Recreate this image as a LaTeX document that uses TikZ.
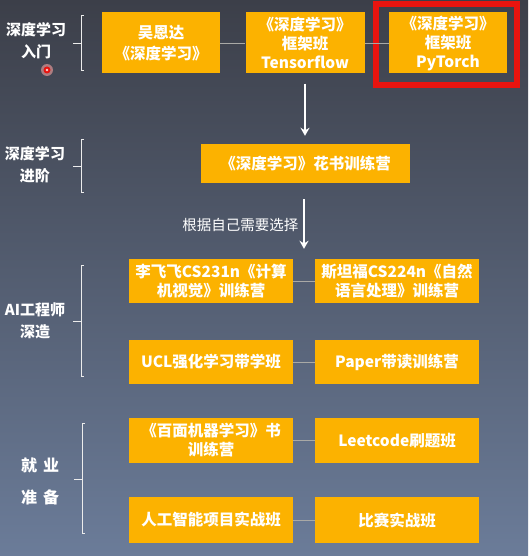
\documentclass[tikz,border=0pt]{standalone}
\usepackage{fontspec}
\setmainfont{Noto Sans CJK SC}
\usetikzlibrary{arrows.meta, positioning, calc}

\definecolor{bgtop}{HTML}{3C3F49}
\definecolor{bgbot}{HTML}{6B7C99}
\definecolor{boxorange}{HTML}{FCB200}
\definecolor{linkgray}{HTML}{A9A9A6}
\definecolor{markred}{HTML}{E8140F}

\begin{document}
\begin{tikzpicture}[
  x=1pt, y=-1pt,
  >=Stealth,
  every node/.style = {font=\fontsize{15.5}{19}\selectfont\bfseries, text=white},
  %-- block styles -------------------------------------------------------
  course/.style   = {fill=boxorange, minimum width=162pt, minimum height=44pt,
                     inner sep=2pt, align=center, text width=160pt},
  stagelab/.style = {align=center, font=\fontsize{15}{22}\selectfont\bfseries},
  bracket/.style  = {draw=white!85!gray, line width=0.8pt},
  link/.style     = {draw=linkgray, line width=0.8pt},
  arrow/.style    = {->, draw=white, line width=2.4pt,
                     arrows={-Stealth[length=8pt, width=9pt]}},
]

% ── background ───────────────────────────────────────────────────────────────
\shade[top color=bgtop, bottom color=bgbot] (0,0) rectangle (528,556);
\useasboundingbox (0,0) rectangle (528,556);

% ── stage 1: 入门 ─────────────────────────────────────────────────────────────
\node[course, minimum width=116pt, minimum height=61pt, text width=114pt,
      font=\fontsize{15.5}{21}\selectfont\bfseries]
  (wu) at (161,43) {吴恩达\\《深度学习》};
\node[course, minimum width=117pt, minimum height=61pt, text width=115pt]
  (tf) at (305,43) {《深度学习》\\框架班\\Tensorflow};
\node[course, minimum width=116pt, minimum height=61pt, text width=114pt]
  (pt) at (448,43) {《深度学习》\\框架班\\PyTorch};
\draw[draw=markred, line width=6pt] (376,4) rectangle (517,85);

\draw[link] (wu) -- (tf);
\draw[link] (tf) -- (pt);

% ── stage 2: 进阶 ─────────────────────────────────────────────────────────────
\node[course, minimum width=207pt, minimum height=39pt, text width=205pt]
  (hua) at (305.5,163.5) {《深度学习》花书训练营};

\draw[arrow, shorten <=10pt, shorten >=8pt] (tf) -- (tf |- hua.north);

% ── stage 3: 深造 ─────────────────────────────────────────────────────────────
\node[course] (cv)    at (211,281) {李飞飞CS231n《计算\\机视觉》训练营};
\node[course, minimum width=164pt] (nlp) at (397,281) {斯坦福CS224n《自然\\语言处理》训练营};
\node[course] (ucl)   at (211,362) {UCL强化学习带学班};
\node[course, minimum width=164pt] (paper) at (397,362) {Paper带读训练营};

\draw[link] (cv) -- (nlp);
\draw[link] (ucl) -- (paper);

\coordinate (gap) at ($(cv.east)!0.5!(nlp.west)$);
\draw[arrow, shorten <=16pt, shorten >=10pt] (hua.south -| gap) -- (gap |- cv.north)
  node[left, pos=0.55, xshift=-1pt, font=\fontsize{14.5}{17}\selectfont] {根据自己需要选择};

% ── stage 4: 就业准备 ─────────────────────────────────────────────────────────
\node[course, minimum height=45pt] (bm)   at (211,440.5) {《百面机器学习》书\\训练营};
\node[course, minimum height=45pt] (lc)   at (397,440.5) {Leetcode刷题班};
\node[course, minimum height=46pt] (ai)   at (211,520)   {人工智能项目实战班};
\node[course, minimum height=46pt] (comp) at (397,520)   {比赛实战班};

\draw[link] (bm) -- (lc);
\draw[link] (ai) -- (comp);

% ── stage labels and brackets ────────────────────────────────────────────────
\node[stagelab] (s1) at (36,41)  {深度学习\\入门};
\node[stagelab] (s2) at (35,165) {深度学习\\进阶};
\node[stagelab] (s3) at (35,321) {AI工程师\\深造};
\node[stagelab, font=\fontsize{16}{32}\selectfont\bfseries] (s4) at (40,481)
  {就\hspace{6pt}业\\准\hspace{6pt}备};

\draw[bracket] (84,15)  -- (81,15)  -- (81,70)  -- (84,70);  \draw[bracket] (73,43)  -- (81,43);
\draw[bracket] (84,139) -- (81,139) -- (81,192) -- (84,192); \draw[bracket] (73,166) -- (81,166);
\draw[bracket] (84,265) -- (81,265) -- (81,376) -- (84,376); \draw[bracket] (73,321) -- (81,321);
\draw[bracket] (85,423) -- (82,423) -- (82,533) -- (85,533); \draw[bracket] (74,479) -- (82,479);

% ── pointer dot ──────────────────────────────────────────────────────────────
\fill[markred!40, opacity=0.6] (47,70) circle (6pt);
\fill[markred] (47,70) circle (3.5pt);
\fill[white!80!markred] (47,70) circle (1.3pt);

\end{tikzpicture}
\end{document}
